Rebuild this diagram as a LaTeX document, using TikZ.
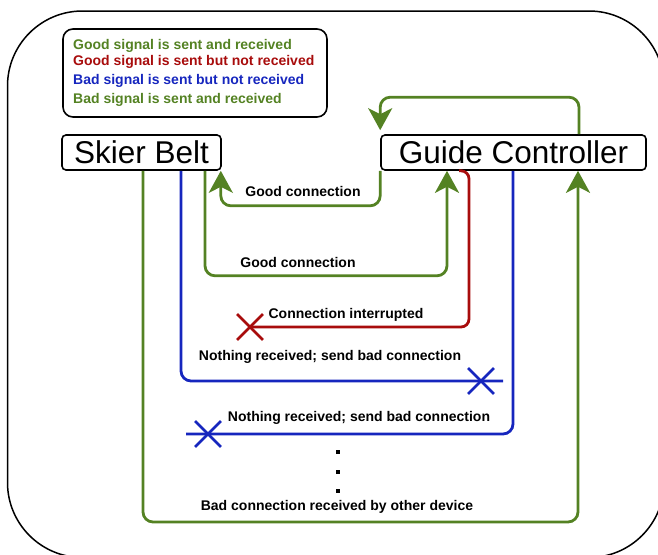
\documentclass[tikz,border=0pt]{standalone}
\usepackage{fontspec}
\setmainfont{Liberation Sans}
\usetikzlibrary{arrows.meta,shapes.misc}

\definecolor{goodgreen}{RGB}{84,130,35}
\definecolor{lostred}{RGB}{168,12,12}
\definecolor{badblue}{RGB}{22,38,190}

\tikzset{
  device/.style={draw, line width=1.6pt, rounded corners=4pt, minimum height=35pt, inner sep=0pt, fill=white,
    font=\fontsize{31.5}{34}\selectfont},
  sigline/.style={line width=2.8pt, rounded corners=10pt},
  sigarrow/.style={-{Stealth[length=22pt,width=24pt,inset=6pt]}},
  lbl/.style={inner sep=0pt, font=\fontsize{14}{16}\selectfont\bfseries},
  cutmark/.style={draw, cross out, line width=2.8pt, minimum size=23pt, inner sep=0pt},
  dotmark/.style={fill, minimum size=4pt, inner sep=0pt},
}

\begin{document}
\begin{tikzpicture}[x=1pt, y=-1pt]
            \useasboundingbox (0,0) rectangle (658,554);
            \clip (0,0) rectangle (658,554);

            % Outer frame
            \draw[line width=1.5pt, rounded corners=75pt] (7.5,11) rectangle (664,557.5);

            % Legend
            \node[draw, line width=1.6pt, rounded corners=10pt, minimum width=264pt, minimum height=88pt] (legend) at (195,73) {};
            \node[lbl, text=goodgreen, anchor=west] (leg1) at (73,46) {Good signal is sent and received};
            \node[lbl, text=lostred, anchor=west] (leg2) at (73,62) {Good signal is sent but not received};
            \node[lbl, text=badblue, anchor=west] (leg3) at (73,81) {Bad signal is sent but not received};
            \node[lbl, text=goodgreen, anchor=west] (leg4) at (73,100) {Bad signal is sent and received};

            % The two devices
            \node[device, minimum width=159pt] (belt) at (141.5,152.5) {Skier Belt};
            \node[device, minimum width=265pt] (ctrl) at (513.5,152.5) {Guide Controller};

            % Crosses where a signal gets lost
            \node[cutmark, lostred] (cutA) at (250,327) {};
            \node[cutmark, badblue] (cutB) at (481,381) {};
            \node[cutmark, badblue] (cutC) at (208,434) {};
            \coordinate (endB) at (503,381);
            \coordinate (endC) at (186,434);

            % Good connections
            \draw[sigline, sigarrow, goodgreen, shorten >=4pt] (ctrl.north -| 579,0) -- ++(0,-37) -| (ctrl.north west);
            \draw[sigline, sigarrow, goodgreen] (ctrl.south west) -- ++(0,35) -| ([xshift=-1pt]belt.south east);
            \draw[sigline, sigarrow, goodgreen] (belt.south -| 205,0) -- ++(0,105) -| (ctrl.south -| 447,0);
            \node[lbl] (good1) at (303,191) {Good connection};
            \node[lbl] (good2) at (298,262) {Good connection};

            % Interrupted connection
            \draw[sigline, rounded corners=8pt, lostred] (ctrl.south -| 459,0) -| (469,327) -- (cutA.center);
            \node[lbl] (lost1) at (346,315) {Connection interrupted};

            % Bad connections
            \draw[sigline, badblue] (belt.south -| 181,0) |- (endB);
            \node[lbl] (bad1) at (330,357) {Nothing received; send bad connection};
            \draw[sigline, badblue] (ctrl.south -| 513,0) |- (endC);
            \node[lbl] (bad2) at (359,418) {Nothing received; send bad connection};

            % Dots
            \node[dotmark] (dot1) at (338,452) {};
            \node[dotmark] (dot2) at (338,472) {};
            \node[dotmark] (dot3) at (338,491) {};

            % Bad connection that does get through
            \draw[sigline, sigarrow, goodgreen] (belt.south -| 143,0) |- (578,522) -- (ctrl.south -| 578,0);
            \node[lbl] (other) at (337,507) {Bad connection received by other device};
\end{tikzpicture}
\end{document}
